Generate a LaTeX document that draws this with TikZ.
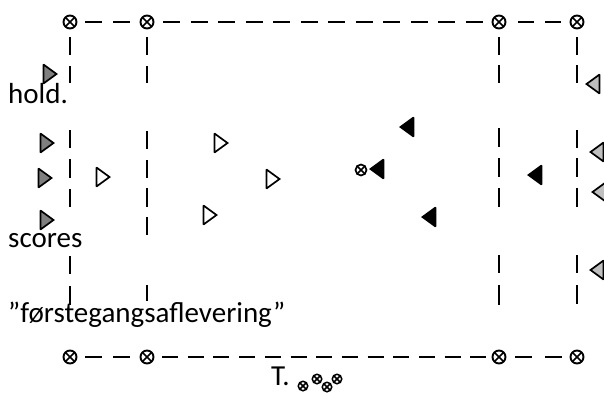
\documentclass[tikz,border=0pt]{standalone}
\usepackage{fontspec}
\setmainfont{Carlito}
\definecolor{darkmark}{HTML}{7F7F7F}
\definecolor{lightmark}{HTML}{BFBFBF}
\begin{document}
\begin{tikzpicture}[x=1pt,y=-1pt,
  % crossed-circle marker
  xmark/.style={circle, draw, line width=1.9pt, minimum size=13pt, inner sep=0pt, outer sep=0pt,
    path picture={\draw[line width=1.7pt]
      (path picture bounding box.north west) -- (path picture bounding box.south east)
      (path picture bounding box.north east) -- (path picture bounding box.south west);}},
  xsmall/.style={xmark, minimum size=11pt, line width=1.7pt},
  xtiny/.style={xmark, minimum size=9.5pt, line width=1.5pt},
  % dashed field lines
  hline/.style={line width=1.9pt},
  vline/.style={line width=1.9pt},
  % player triangles
  rtri/.pic={\path[pic actions, line width=1.7pt, line join=miter, miter limit=2]
      (-6.5,-9.5) -- (6.5,0) -- (-6.5,9.5) -- cycle;},
  ltri/.pic={\path[pic actions, line width=1.7pt, line join=miter, miter limit=2]
      (6.5,-9.5) -- (-6.5,0) -- (6.5,9.5) -- cycle;},
  txt/.style={anchor=base west, inner sep=0pt, font=\fontsize{29}{35}\selectfont},
]
\useasboundingbox (0,0) rectangle (604,392);

% corner and line markers
\node[xmark] (t1) at (70,22) {};
\node[xmark] (t2) at (147,22) {};
\node[xmark] (t3) at (499,22) {};
\node[xmark] (t4) at (577,22) {};
\node[xmark] (b1) at (70,357) {};
\node[xmark] (b2) at (147,357) {};
\node[xmark] (b3) at (499,357) {};
\node[xmark] (b4) at (577,357) {};

% top line
\draw[hline, dash pattern=on 17pt off 11pt, shorten <=8.5pt, shorten >=10.5pt] (t1) -- (t2);
\draw[hline, dash pattern=on 17pt off 10.5pt, shorten <=9.5pt, shorten >=9.5pt] (t2) -- (t3);
\draw[hline, dash pattern=on 16pt off 11pt, shorten <=12.5pt, shorten >=9.5pt] (t3) -- (t4);
% bottom line
\draw[hline, dash pattern=on 17pt off 11pt, shorten <=8.5pt, shorten >=10.5pt] (b1) -- (b2);
\draw[hline, dash pattern=on 16pt off 9.7pt, shorten <=8.5pt, shorten >=6.5pt] (b2) -- (b3);
\draw[hline, dash pattern=on 17pt off 13pt, shorten <=9.5pt, shorten >=8.5pt] (b3) -- (b4);

% vertical lines
\draw[vline, shorten <=8.5pt,
  dash pattern=on 18pt off 11pt on 17pt off 47pt on 18pt off 11pt on 19pt off 11pt on 18pt off 49pt on 18pt off 12pt on 19pt off 100pt]
  (t1) -- (b1);
\draw[vline, shorten <=8.5pt,
  dash pattern=on 18pt off 11pt on 17pt off 48pt on 18pt off 11pt on 18pt off 10pt on 19pt off 10pt on 18pt off 50pt on 16pt off 100pt]
  (t2) -- (b2);
\draw[vline, shorten <=8.5pt,
  dash pattern=on 18pt off 10pt on 18pt off 45pt on 19pt off 11pt on 19pt off 11pt on 19pt off 48pt on 18pt off 12pt on 20pt off 100pt]
  (t3) -- (b3);
\draw[vline, shorten <=8.5pt,
  dash pattern=on 18pt off 10pt on 18pt off 47pt on 18pt off 10pt on 19pt off 11pt on 19pt off 48pt on 18pt off 12pt on 19pt off 100pt]
  (t4) -- (b4);

% dark grey team, left
\pic[draw, fill=darkmark] at (50,74) {rtri};
\pic[draw, fill=darkmark] at (47,143) {rtri};
\pic[draw, fill=darkmark] at (45,178) {rtri};
\pic[draw, fill=darkmark] at (47,220) {rtri};

% white team
\pic[draw, fill=white] at (103,177) {rtri};
\pic[draw, fill=white] at (221,143) {rtri};
\pic[draw, fill=white] at (273,179) {rtri};
\pic[draw, fill=white] at (210,215) {rtri};

% black team
\pic[draw, fill=black] at (407,127) {ltri};
\pic[draw, fill=black] at (377,169) {ltri};
\pic[draw, fill=black] at (429,217) {ltri};
\pic[draw, fill=black] at (535,175) {ltri};

% ball
\node[xsmall] (ball) at (361,170) {};

% light grey team, right
\pic[draw, fill=lightmark] at (593,84) {ltri};
\pic[draw, fill=lightmark] at (597,152) {ltri};
\pic[draw, fill=lightmark] at (599,192) {ltri};
\pic[draw, fill=lightmark] at (597,270) {ltri};

% labels
\node[txt] (hold) at (8,103) {hold.};
\node[txt] (scores) at (8,247) {scores};
\node[txt] (first) at (8,322) {”førstegangsaflevering”};
\node[txt] (tee) at (271,385) {T.};
\node[xtiny] (s1) at (303,386) {};
\node[xtiny] (s2) at (317,379) {};
\node[xtiny] (s3) at (327,387) {};
\node[xtiny] (s4) at (337,379) {};
\end{tikzpicture}
\end{document}
